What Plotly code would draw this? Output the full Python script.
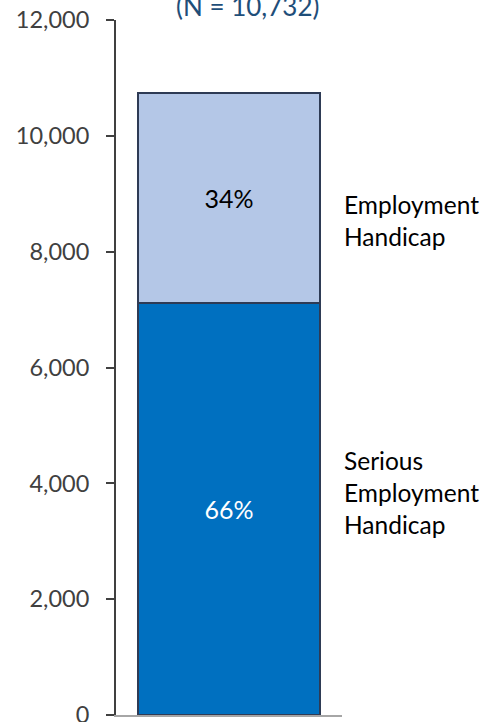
import plotly.graph_objects as go

category = ["Total"]
segment_names = ["Serious<br>Employment<br>Handicap", "Employment<br>Handicap"]
segment_values = [7110, 3622]
segment_pcts = [66, 34]
segment_colors = ["#0070C0", "#B4C7E7"]
segment_text_colors = ["#FFFFFF", "#000000"]
title_text = "(N = 10,732)"
y_ticks = [0, 2000, 4000, 6000, 8000, 10000, 12000]

FONT = "Lato"

fig = go.Figure()
for name, val, pct, col, tcol in zip(segment_names, segment_values, segment_pcts,
                                     segment_colors, segment_text_colors):
    fig.add_trace(go.Bar(
        x=category, y=[val], name=name.replace("<br>", " "),
        marker=dict(color=col, line=dict(color="#2E3B55", width=2)),
        width=0.805,
        text=[f"{pct}%"], textposition="inside", insidetextanchor="middle",
        textfont=dict(family=FONT, size=25, color=tcol),
        constraintext="none",
        hoverinfo="skip",
    ))

# right-hand labels
base = 0
offsets = [17, -22]
for name, val, off in zip(segment_names, segment_values, offsets):
    mid = base + val / 2
    fig.add_annotation(x=1, xref="paper", y=mid, yref="y", yshift=off,
                       text=name, showarrow=False, xanchor="left", align="left",
                       font=dict(family=FONT, size=24.5, color="#000000"))
    base += val

fig.add_annotation(x=0.58, xref="paper", y=1, yref="paper", yshift=14,
                   text=title_text, showarrow=False, xanchor="center", yanchor="middle",
                   font=dict(family=FONT, size=26, color="#1F4E79"))

fig.update_layout(
    width=493, height=722,
    margin=dict(l=116, r=151, t=20, b=7, autoexpand=False),
    barmode="stack", showlegend=False,
    plot_bgcolor="white", paper_bgcolor="white",
    font=dict(family=FONT),
    xaxis=dict(range=[-0.5, 0.5], showticklabels=False, showgrid=False, zeroline=False,
               showline=True, linecolor="#A6A6A6", linewidth=2, ticks="",
               automargin=False),
    yaxis=dict(range=[0, 12000], tickvals=y_ticks, tickformat=",", showgrid=False,
               zeroline=False, showline=True, linecolor="#404040", linewidth=2,
               ticks="outside", ticklen=8, tickwidth=2, tickcolor="#404040",
               ticklabelstandoff=12, ticklabeloverflow="allow", automargin=False,
               tickfont=dict(family=FONT, size=23.5, color="#404040")),
)

fig.write_html("out.html")
